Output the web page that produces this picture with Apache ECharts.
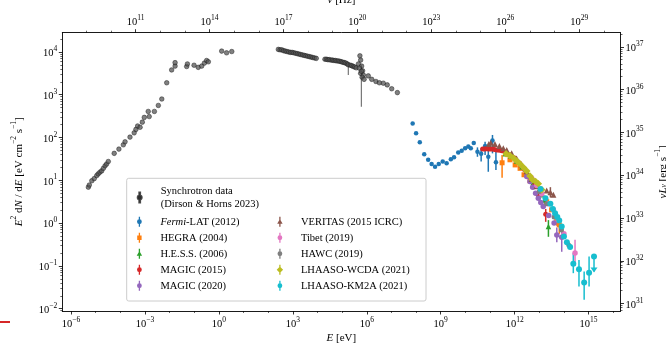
<!DOCTYPE html>
<html>
<head>
<meta charset="utf-8">
<title>Crab Nebula SED</title>
<script src="https://cdn.jsdelivr.net/npm/echarts@6/dist/echarts.min.js"></script>
<style>
html, body { margin: 0; padding: 0; background: #fff; }
#chart { width: 666px; height: 349px; }
</style>
</head>
<body>
<div id="chart"></div>
<script>
// all values are log10: E in eV, E^2 dN/dE in eV cm^-2 s^-1
// rows: [logE, logF] or [logE, logF, logF_low, logF_high]
var syncLow = [[-5.30,0.84],[-5.26,0.89],[-5.16,0.99],[-5.06,1.04],[-4.96,1.11],[-4.90,1.15],[-4.83,1.19],[-4.76,1.22],[-4.69,1.28],[-4.62,1.34],[-4.56,1.38],[-4.49,1.44],[-4.25,1.63],[-4.06,1.73],[-3.88,1.83],[-3.81,1.90],[-3.61,2.01],[-3.44,2.11],[-3.37,2.19],[-3.30,2.27],[-3.20,2.24],[-3.11,2.36],[-3.03,2.47],[-2.87,2.61],[-2.83,2.49],[-2.62,2.61],[-2.46,2.75],[-2.32,2.90],[-2.12,3.28],[-1.92,3.58],[-1.78,3.67],[-1.78,3.75],[-1.31,3.66],[-1.28,3.72],[-1.01,3.69],[-0.84,3.64],[-0.70,3.67],[-0.59,3.74],[-0.50,3.80],[-0.43,3.77],[0.11,4.02],[0.31,3.98],[0.52,4.01]];
var syncSoftX = [[2.41,4.06],[2.48,4.05],[2.55,4.05],[2.62,4.03],[2.69,4.02],[2.76,4.01],[2.83,4.00],[2.90,3.99],[2.97,3.99],[3.04,3.98],[3.11,3.97],[3.18,3.96],[3.25,3.95],[3.32,3.94],[3.39,3.93],[3.46,3.92],[3.53,3.91],[3.60,3.90],[3.67,3.89],[3.74,3.88],[3.81,3.87],[3.88,3.86],[3.95,3.85]];
var syncHardX = [[4.30,3.83],[4.36,3.83],[4.42,3.82],[4.48,3.82],[4.55,3.81],[4.61,3.81],[4.67,3.80],[4.73,3.80],[4.79,3.79],[4.85,3.79],[4.91,3.78],[4.97,3.77],[5.03,3.76],[5.09,3.75],[5.15,3.74],[5.21,3.72],[5.25,3.70,3.46,3.72],[5.33,3.69],[5.39,3.68],[5.45,3.66],[5.51,3.65],[5.57,3.63]];
var syncGamma = [[5.72,3.91],[5.75,3.81],[5.66,3.72],[5.79,3.67],[5.70,3.62],[5.83,3.56],[5.75,3.50],[5.86,3.46],[5.78,3.55,2.72,3.70],[5.81,3.41],[5.89,3.36],[6.06,3.44],[6.20,3.36],[6.37,3.31],[6.51,3.28],[6.67,3.27],[6.83,3.23],[7.01,3.14],[7.24,3.05]];
var fermi = [[7.86,2.33],[8.00,2.10],[8.15,1.89],[8.33,1.61],[8.49,1.48],[8.63,1.38],[8.77,1.32],[8.92,1.38],[9.08,1.44],[9.24,1.40],[9.41,1.49],[9.54,1.54],[9.71,1.65],[9.85,1.69],[9.99,1.75],[10.12,1.79],[10.22,1.75],[10.34,1.87],[10.49,1.67,1.55,1.77],[10.64,1.62,1.44,1.75],[10.80,1.80,1.59,1.90],[10.93,1.55,1.20,1.71],[11.10,1.93,1.63,2.06],[11.24,1.42,1.24,1.67]];
var hegra = [[11.49,1.41,1.06,1.59],[11.81,1.48],[12.02,1.36],[12.22,1.28],[12.38,1.13],[12.62,0.99],[12.83,0.87],[13.03,0.70],[13.30,0.50],[13.50,0.31],[13.71,0.07,-0.06,0.20],[13.81,-0.04,-0.25,0.12]];
var hess = [[11.62,1.62],[11.85,1.56],[12.08,1.45],[12.30,1.32],[12.52,1.16],[12.75,0.95],[12.98,0.74],[13.10,0.66],[13.21,0.54,0.42,0.64],[13.37,-0.08,-0.32,0.07]];
var magic15 = [[10.70,1.73],[10.78,1.73],[10.86,1.74],[10.94,1.73],[11.02,1.73],[11.10,1.73],[11.18,1.72],[11.27,1.71],[11.37,1.70],[11.48,1.69],[11.62,1.66],[11.80,1.60],[12.00,1.52],[12.20,1.40],[12.40,1.25],[12.60,1.08],[12.80,0.88],[12.95,0.66],[13.26,0.21,0.03,0.33]];
var magic20 = [[12.49,1.09],[12.62,0.97],[12.73,0.84],[12.85,0.70],[12.96,0.58],[13.06,0.48],[13.16,0.39],[13.38,0.18],[13.60,0.00],[13.71,-0.28,-0.45,-0.10],[13.91,-0.33,-0.67,-0.12]];
var veritas = [[10.95,1.85],[11.03,1.88],[11.20,1.85],[11.38,1.80],[11.54,1.75],[11.68,1.71],[11.88,1.63],[12.08,1.51],[12.28,1.37],[12.48,1.21],[12.68,1.03],[12.88,0.86],[13.08,0.72],[13.30,0.76],[13.45,0.72,0.60,0.84],[13.57,0.66]];
var tibet = [[12.69,1.05],[12.90,0.88],[13.10,0.68],[13.35,0.45],[13.57,0.31],[13.77,0.07],[14.00,-0.25],[14.45,-0.70,-1.00,-0.39]];
var hawc = [[12.10,1.45],[12.40,1.27],[12.70,1.02],[13.00,0.74],[13.30,0.45],[13.60,0.14],[13.90,-0.16],[14.20,-0.52]];
var wcda = [[11.65,1.62],[11.80,1.58],[11.95,1.52],[12.09,1.45],[12.22,1.38],[12.36,1.30],[12.49,1.22],[12.62,1.10],[12.72,1.02],[12.85,0.97],[12.96,0.92],[13.10,0.78]];
var km2a = [[13.05,0.80],[13.25,0.58],[13.45,0.45],[13.55,0.33],[13.64,0.23],[13.73,0.14],[13.81,0.06],[13.91,-0.08],[14.00,-0.31],[14.12,-0.45],[14.25,-0.56],[14.38,-0.95,-1.17,-0.70],[14.61,-1.08,-1.48,-0.86],[14.82,-1.39,-1.79,-1.13],[15.02,-1.16,-1.48,-0.78]];
var km2aUL = [[15.22,-0.78,-1.13]]; // upper limit: [logE, from, to]

// tick labels (exponents)
var eTicks = [-6, -3, 0, 3, 6, 9, 12, 15];
var nuTicks = [11, 14, 17, 20, 23, 26, 29];
var fTicks = [-2, -1, 0, 1, 2, 3, 4];
var lumTicks = [31, 32, 33, 34, 35, 36, 37];

var HZ_SHIFT = 14.3835;   // log10(nu/Hz) - log10(E/eV)
var LUM_SHIFT = 32.88;    // log10(nuL_nu) - log10(E^2 dN/dE), d = 2 kpc
var E_MIN = -6.357, E_MAX = 16.295, F_MIN = -2.054, F_MAX = 4.45;

var SERIF = '"Liberation Serif", "DejaVu Serif", serif';

function decadeMinor(lo, hi, skip) {
    var out = [];
    for (var n = Math.ceil(lo); n <= hi; n++) {
        if (skip.indexOf(n) < 0) out.push(n);
    }
    return out;
}
function logMinor(lo, hi) {
    var out = [];
    for (var n = Math.floor(lo); n <= Math.ceil(hi); n++) {
        for (var k = 2; k <= 9; k++) {
            var v = n + Math.log10(k);
            if (v > lo && v < hi) out.push(v);
        }
    }
    return out;
}

function powLabel(v) {
    return '{b|10}{s|' + String(Math.round(v)).replace('-', '\u2212') + '}';
}
var tickRich = {
    b: { fontFamily: SERIF, fontSize: 10.5, color: '#000', lineHeight: 14, verticalAlign: 'bottom' },
    s: { fontFamily: SERIF, fontSize: 7.5, color: '#000', verticalAlign: 'top' }
};
var nameRich = {
    i: { fontFamily: SERIF, fontSize: 11, fontStyle: 'italic', color: '#000', lineHeight: 14, verticalAlign: 'bottom' },
    r: { fontFamily: SERIF, fontSize: 11, color: '#000', lineHeight: 14, verticalAlign: 'bottom' },
    s: { fontFamily: SERIF, fontSize: 7.5, color: '#000', verticalAlign: 'top' },
    u: { fontFamily: SERIF, fontSize: 7.5, fontStyle: 'italic', color: '#000', verticalAlign: 'bottom' }
};

function majorAxis(pos, min, max, ticks, extra) {
    var ax = {
        type: 'value', position: pos, min: min, max: max,
        axisLine: { show: true, onZero: false, lineStyle: { color: '#000', width: 0.9 } },
        axisTick: { show: true, inside: false, length: 3.5, customValues: ticks, lineStyle: { color: '#000', width: 0.8 } },
        axisLabel: { show: true, customValues: ticks, formatter: powLabel, rich: tickRich, margin: 5 },
        splitLine: { show: false },
        nameMoveOverlap: false
    };
    for (var k in extra) ax[k] = extra[k];
    return ax;
}
function minorAxis(pos, min, max, ticks) {
    return {
        type: 'value', position: pos, min: min, max: max,
        axisLine: { show: false, onZero: false },
        axisTick: { show: true, inside: false, length: 2, customValues: ticks, lineStyle: { color: '#000', width: 0.6 } },
        axisLabel: { show: false },
        splitLine: { show: false }
    };
}

function pts(rows) { return rows.map(function (r) { return [r[0], r[1]]; }); }
function errs(rows) {
    return rows.filter(function (r) { return r.length > 2; }).map(function (r) { return [r[0], r[2], r[3]]; });
}

function errorSeries(name, rows, color, width) {
    return {
        type: 'custom', name: name + ' err', silent: true,
        xAxisIndex: 0, yAxisIndex: 0,
        data: errs(rows),
        encode: { x: 0, y: [1, 2] },
        renderItem: function (params, api) {
            var a = api.coord([api.value(0), api.value(1)]);
            var b = api.coord([api.value(0), api.value(2)]);
            return { type: 'line', shape: { x1: a[0], y1: a[1], x2: b[0], y2: b[1] },
                     style: { stroke: color, lineWidth: width } };
        }
    };
}
function pointSeries(name, rows, color, symbol, size, extraStyle) {
    var st = { color: color, opacity: 1 };
    for (var k in extraStyle) st[k] = extraStyle[k];
    return {
        type: 'scatter', name: name, xAxisIndex: 0, yAxisIndex: 0,
        data: pts(rows), symbol: symbol, symbolSize: size,
        itemStyle: st, emphasis: { disabled: true }, silent: true
    };
}

var SYNC = 'Synchrotron data';
var sets = [
    { name: 'Fermi-LAT (2012)', rows: fermi, color: '#1f77b4', symbol: 'circle', size: 4.5 },
    { name: 'HEGRA (2004)', rows: hegra, color: '#ff7f0e', symbol: 'rect', size: 5 },
    { name: 'H.E.S.S. (2006)', rows: hess, color: '#2ca02c', symbol: 'triangle', size: 5.5 },
    { name: 'MAGIC (2015)', rows: magic15, color: '#d62728', symbol: 'circle', size: 5 },
    { name: 'MAGIC (2020)', rows: magic20, color: '#9467bd', symbol: 'circle', size: 5.5 },
    { name: 'VERITAS (2015 ICRC)', rows: veritas, color: '#8c564b', symbol: 'triangle', size: 6 },
    { name: 'Tibet (2019)', rows: tibet, color: '#e377c2', symbol: 'circle', size: 5.5 },
    { name: 'HAWC (2019)', rows: hawc, color: '#7f7f7f', symbol: 'circle', size: 5 },
    { name: 'LHAASO-WCDA (2021)', rows: wcda, color: '#bcbd22', symbol: 'diamond', size: 7.5 },
    { name: 'LHAASO-KM2A (2021)', rows: km2a, color: '#17becf', symbol: 'circle', size: 6 }
];

var series = [];
var syncAll = syncLow.concat(syncSoftX, syncHardX, syncGamma);
series.push(errorSeries(SYNC, syncAll, '#777', 1.2));
series.push(pointSeries(SYNC, syncAll, '#555', 'circle', 4.6, { borderColor: '#111', borderWidth: 0.6, opacity: 0.75 }));
sets.forEach(function (d) {
    series.push(errorSeries(d.name, d.rows, d.color, 1.5));
    series.push(pointSeries(d.name, d.rows, d.color, d.symbol, d.size, {}));
});
// KM2A upper limit: marker, bar and arrow head
series.push({
    type: 'custom', name: 'KM2A UL', silent: true, xAxisIndex: 0, yAxisIndex: 0,
    data: km2aUL, encode: { x: 0, y: [1, 2] },
    renderItem: function (params, api) {
        var a = api.coord([api.value(0), api.value(1)]);
        var b = api.coord([api.value(0), api.value(2)]);
        return { type: 'group', children: [
            { type: 'line', shape: { x1: a[0], y1: a[1], x2: b[0], y2: b[1] }, style: { stroke: '#17becf', lineWidth: 1.5 } },
            { type: 'polygon', shape: { points: [[b[0] - 3.5, b[1] - 4], [b[0] + 3.5, b[1] - 4], [b[0], b[1] + 1]] }, style: { fill: '#17becf' } },
            { type: 'circle', shape: { cx: a[0], cy: a[1], r: 3 }, style: { fill: '#17becf' } }
        ] };
    }
});

var BAR = 'M4.35,0h1.3v10h-1.3z ';
var ICON = {
    circle: 'path://' + BAR + 'M5,2.6a2.4,2.4 0 1,1 -0.01,0z',
    rect: 'path://' + BAR + 'M2.8,2.8h4.4v4.4h-4.4z',
    triangle: 'path://' + BAR + 'M5,2.2L7.7,6.9H2.3z',
    diamond: 'path://' + BAR + 'M5,1.8L8.2,5L5,8.2L1.8,5z'
};
var SYNC_ICON = 'path://M4.6,0h0.8v10h-0.8z M5,3a2,2 0 1,1 -0.01,0z';

var legendText = {
    fontFamily: SERIF, fontSize: 10.5, color: '#000', lineHeight: 12.5, padding: [0, 0, 0, 11],
    rich: {
        it: { fontFamily: SERIF, fontSize: 10.5, fontStyle: 'italic', color: '#000' },
        n: { fontFamily: SERIF, fontSize: 10.5, color: '#000' }
    }
};
function legendBlock(names, left, top) {
    return {
        orient: 'vertical', left: left, top: top, itemWidth: 10, itemHeight: 10, itemGap: 3.5,
        selectedMode: false, padding: 0,
        data: names.map(function (n) {
            var d = sets.filter(function (s) { return s.name === n; })[0];
            return { name: n, icon: ICON[d.symbol] };
        }),
        formatter: function (n) {
            if (n === 'Fermi-LAT (2012)') return '{it|Fermi}{n|-LAT (2012)}';
            return '{n|' + n + '}';
        },
        textStyle: legendText
    };
}

var option = {
    animation: false,
    backgroundColor: '#fff',
    grid: { left: 62.3, right: 45.5, top: 32.7, bottom: 38, containLabel: false, outerBoundsMode: 'none' },
    xAxis: [
        majorAxis('bottom', E_MIN, E_MAX, eTicks, {
            name: '{i|E}{r| [eV]}', nameLocation: 'middle', nameGap: 19,
            nameTextStyle: { rich: nameRich }
        }),
        minorAxis('bottom', E_MIN, E_MAX, decadeMinor(E_MIN, E_MAX, eTicks)),
        majorAxis('top', E_MIN + HZ_SHIFT, E_MAX + HZ_SHIFT, nuTicks, {
            name: '{i|\u03bd}{r| [Hz]}', nameLocation: 'middle', nameGap: 27,
            nameTextStyle: { rich: nameRich }
        }),
        minorAxis('top', E_MIN + HZ_SHIFT, E_MAX + HZ_SHIFT, decadeMinor(E_MIN + HZ_SHIFT, E_MAX + HZ_SHIFT, nuTicks))
    ],
    yAxis: [
        majorAxis('left', F_MIN, F_MAX, fTicks, {
            name: '{i|E}{s|2}{r| d}{i|N}{r| / d}{i|E}{r| [eV cm}{s|\u22122}{r| s}{s|\u22121}{r|]}',
            nameLocation: 'middle', nameRotate: 90, nameGap: 38,
            nameTextStyle: { rich: nameRich }
        }),
        minorAxis('left', F_MIN, F_MAX, logMinor(F_MIN, F_MAX)),
        majorAxis('right', F_MIN + LUM_SHIFT, F_MAX + LUM_SHIFT, lumTicks, {
            name: '{i|\u03bdL}{u|\u03bd}{r| [erg s}{s|\u22121}{r|]}',
            nameLocation: 'middle', nameRotate: 90, nameGap: 34,
            nameTextStyle: { rich: nameRich }
        }),
        minorAxis('right', F_MIN + LUM_SHIFT, F_MAX + LUM_SHIFT, logMinor(F_MIN + LUM_SHIFT, F_MAX + LUM_SHIFT))
    ],
    legend: [
        {
            orient: 'vertical', left: 136.7, top: 185, itemWidth: 10, itemHeight: 10,
            selectedMode: false, padding: 0,
            data: [{ name: SYNC, icon: SYNC_ICON }],
            formatter: function () { return 'Synchrotron data\n(Dirson & Horns 2023)'; },
            textStyle: { fontFamily: SERIF, fontSize: 10.5, color: '#000', lineHeight: 12.6, padding: [0, 0, 0, 11] }
        },
        legendBlock(['Fermi-LAT (2012)', 'HEGRA (2004)', 'H.E.S.S. (2006)', 'MAGIC (2015)', 'MAGIC (2020)'], 136.7, 215.5),
        legendBlock(['VERITAS (2015 ICRC)', 'Tibet (2019)', 'HAWC (2019)', 'LHAASO-WCDA (2021)', 'LHAASO-KM2A (2021)'], 276.7, 215.5)
    ],
    graphic: [
        { type: 'rect', z: 3, shape: { x: 126.7, y: 178.3, width: 299.3, height: 122.7, r: 2 },
          style: { fill: 'rgba(255,255,255,0.8)', stroke: '#cccccc', lineWidth: 1 } },
        { type: 'line', z: 3, shape: { x1: 0, y1: 322, x2: 10, y2: 322 },
          style: { stroke: '#d62728', lineWidth: 2 } }
    ],
    series: series
};

var chart = echarts.init(document.getElementById('chart'));
chart.setOption(option);
</script>
</body>
</html>
